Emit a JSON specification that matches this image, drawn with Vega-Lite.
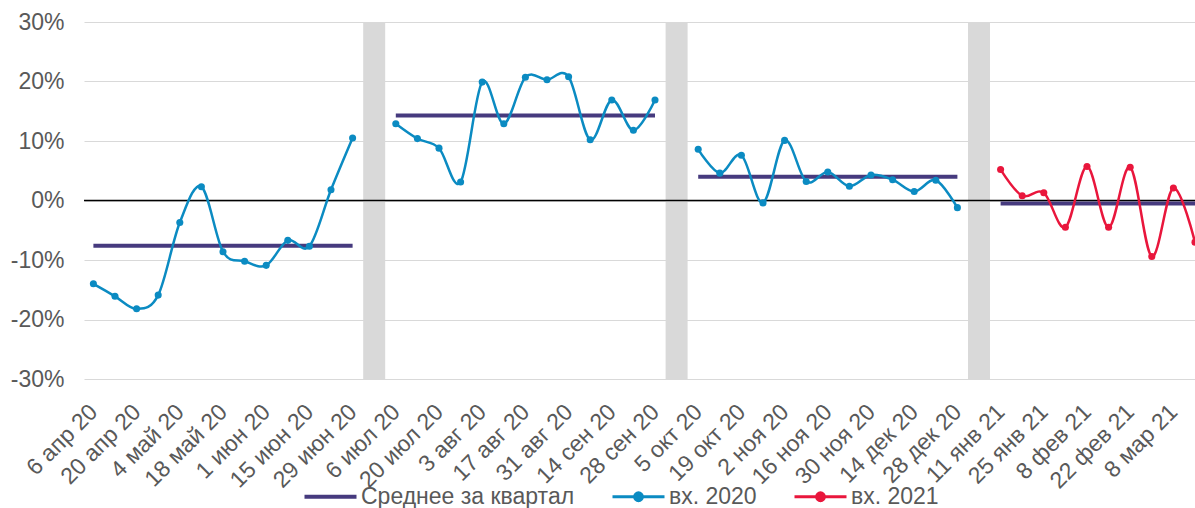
{
  "$schema": "https://vega.github.io/schema/vega-lite/v6.json",
  "width": 1111,
  "height": 357,
  "autosize": {"type": "none"},
  "padding": {"left": 84, "top": 22, "right": 0, "bottom": 129},
  "background": "white",
  "config": {
    "view": {"stroke": null},
    "font": "Liberation Sans",
    "axis": {"labelFont": "Liberation Sans", "labelColor": "#595959"}
  },
  "datasets": {
    "gaps": [{"w": "g1"}, {"w": "g2"}, {"w": "g3"}],
    "zero": [{"z": 0}],
    "series": [
      {"w": "6 апр 20", "s": "вх. 2020", "q": "Q2", "v": -0.140},
      {"w": "13 апр 20", "s": "вх. 2020", "q": "Q2", "v": -0.161},
      {"w": "20 апр 20", "s": "вх. 2020", "q": "Q2", "v": -0.182},
      {"w": "27 апр 20", "s": "вх. 2020", "q": "Q2", "v": -0.159},
      {"w": "4 май 20", "s": "вх. 2020", "q": "Q2", "v": -0.037},
      {"w": "11 май 20", "s": "вх. 2020", "q": "Q2", "v": 0.023},
      {"w": "18 май 20", "s": "вх. 2020", "q": "Q2", "v": -0.086},
      {"w": "25 май 20", "s": "вх. 2020", "q": "Q2", "v": -0.102},
      {"w": "1 июн 20", "s": "вх. 2020", "q": "Q2", "v": -0.109},
      {"w": "8 июн 20", "s": "вх. 2020", "q": "Q2", "v": -0.067},
      {"w": "15 июн 20", "s": "вх. 2020", "q": "Q2", "v": -0.077},
      {"w": "22 июн 20", "s": "вх. 2020", "q": "Q2", "v": 0.018},
      {"w": "29 июн 20", "s": "вх. 2020", "q": "Q2", "v": 0.105},
      {"w": "6 июл 20", "s": "вх. 2020", "q": "Q3", "v": 0.129},
      {"w": "13 июл 20", "s": "вх. 2020", "q": "Q3", "v": 0.104},
      {"w": "20 июл 20", "s": "вх. 2020", "q": "Q3", "v": 0.088},
      {"w": "27 июл 20", "s": "вх. 2020", "q": "Q3", "v": 0.031},
      {"w": "3 авг 20", "s": "вх. 2020", "q": "Q3", "v": 0.199},
      {"w": "10 авг 20", "s": "вх. 2020", "q": "Q3", "v": 0.129},
      {"w": "17 авг 20", "s": "вх. 2020", "q": "Q3", "v": 0.207},
      {"w": "24 авг 20", "s": "вх. 2020", "q": "Q3", "v": 0.203},
      {"w": "31 авг 20", "s": "вх. 2020", "q": "Q3", "v": 0.208},
      {"w": "7 сен 20", "s": "вх. 2020", "q": "Q3", "v": 0.102},
      {"w": "14 сен 20", "s": "вх. 2020", "q": "Q3", "v": 0.169},
      {"w": "21 сен 20", "s": "вх. 2020", "q": "Q3", "v": 0.118},
      {"w": "28 сен 20", "s": "вх. 2020", "q": "Q3", "v": 0.169},
      {"w": "5 окт 20", "s": "вх. 2020", "q": "Q4", "v": 0.086},
      {"w": "12 окт 20", "s": "вх. 2020", "q": "Q4", "v": 0.046},
      {"w": "19 окт 20", "s": "вх. 2020", "q": "Q4", "v": 0.076},
      {"w": "26 окт 20", "s": "вх. 2020", "q": "Q4", "v": -0.004},
      {"w": "2 ноя 20", "s": "вх. 2020", "q": "Q4", "v": 0.101},
      {"w": "9 ноя 20", "s": "вх. 2020", "q": "Q4", "v": 0.032},
      {"w": "16 ноя 20", "s": "вх. 2020", "q": "Q4", "v": 0.048},
      {"w": "23 ноя 20", "s": "вх. 2020", "q": "Q4", "v": 0.024},
      {"w": "30 ноя 20", "s": "вх. 2020", "q": "Q4", "v": 0.043},
      {"w": "7 дек 20", "s": "вх. 2020", "q": "Q4", "v": 0.035},
      {"w": "14 дек 20", "s": "вх. 2020", "q": "Q4", "v": 0.015},
      {"w": "21 дек 20", "s": "вх. 2020", "q": "Q4", "v": 0.034},
      {"w": "28 дек 20", "s": "вх. 2020", "q": "Q4", "v": -0.012},
      {"w": "11 янв 21", "s": "вх. 2021", "q": "Q1", "v": 0.052},
      {"w": "18 янв 21", "s": "вх. 2021", "q": "Q1", "v": 0.008},
      {"w": "25 янв 21", "s": "вх. 2021", "q": "Q1", "v": 0.013},
      {"w": "1 фев 21", "s": "вх. 2021", "q": "Q1", "v": -0.045},
      {"w": "8 фев 21", "s": "вх. 2021", "q": "Q1", "v": 0.057},
      {"w": "15 фев 21", "s": "вх. 2021", "q": "Q1", "v": -0.045},
      {"w": "22 фев 21", "s": "вх. 2021", "q": "Q1", "v": 0.056},
      {"w": "1 мар 21", "s": "вх. 2021", "q": "Q1", "v": -0.094},
      {"w": "8 мар 21", "s": "вх. 2021", "q": "Q1", "v": 0.021},
      {"w": "15 мар 21", "s": "вх. 2021", "q": "Q1", "v": -0.070}
    ],
    "avg": [
      {"w": "6 апр 20", "s": "Среднее за квартал", "q": "Q2", "v": -0.076},
      {"w": "29 июн 20", "s": "Среднее за квартал", "q": "Q2", "v": -0.076},
      {"w": "6 июл 20", "s": "Среднее за квартал", "q": "Q3", "v": 0.143},
      {"w": "28 сен 20", "s": "Среднее за квартал", "q": "Q3", "v": 0.143},
      {"w": "5 окт 20", "s": "Среднее за квартал", "q": "Q4", "v": 0.040},
      {"w": "28 дек 20", "s": "Среднее за квартал", "q": "Q4", "v": 0.040},
      {"w": "11 янв 21", "s": "Среднее за квартал", "q": "Q1", "v": -0.005},
      {"w": "15 мар 21", "s": "Среднее за квартал", "q": "Q1", "v": -0.005}
    ]
  },
  "layer": [
    {
      "data": {"name": "gaps"},
      "mark": {"type": "rule", "color": "#d9d9d9", "strokeWidth": 22},
      "encoding": {
        "x": {
          "field": "w", "type": "ordinal",
          "scale": {
            "type": "point", "padding": 0.2176, "align": 1,
            "domain": ["6 апр 20", "13 апр 20", "20 апр 20", "27 апр 20", "4 май 20", "11 май 20", "18 май 20", "25 май 20", "1 июн 20", "8 июн 20", "15 июн 20", "22 июн 20", "29 июн 20", "g1",
                       "6 июл 20", "13 июл 20", "20 июл 20", "27 июл 20", "3 авг 20", "10 авг 20", "17 авг 20", "24 авг 20", "31 авг 20", "7 сен 20", "14 сен 20", "21 сен 20", "28 сен 20", "g2",
                       "5 окт 20", "12 окт 20", "19 окт 20", "26 окт 20", "2 ноя 20", "9 ноя 20", "16 ноя 20", "23 ноя 20", "30 ноя 20", "7 дек 20", "14 дек 20", "21 дек 20", "28 дек 20", "g3",
                       "11 янв 21", "18 янв 21", "25 янв 21", "1 фев 21", "8 фев 21", "15 фев 21", "22 фев 21", "1 мар 21", "8 мар 21", "15 мар 21"]
          },
          "axis": {
            "title": null,
            "values": ["6 апр 20", "20 апр 20", "4 май 20", "18 май 20", "1 июн 20", "15 июн 20", "29 июн 20", "6 июл 20", "20 июл 20", "3 авг 20", "17 авг 20", "31 авг 20", "14 сен 20", "28 сен 20", "5 окт 20", "19 окт 20", "2 ноя 20", "16 ноя 20", "30 ноя 20", "14 дек 20", "28 дек 20", "11 янв 21", "25 янв 21", "8 фев 21", "22 фев 21", "8 мар 21"],
            "labelAngle": -45,
            "labelAlign": "right",
            "labelBaseline": "middle",
            "labelFontSize": 23,
            "labelPadding": 29,
            "labelOverlap": false,
            "labelBound": false,
            "labelFlush": false,
            "ticks": false,
            "domain": false,
            "grid": false
          }
        }
      }
    },
    {
      "data": {"name": "zero"},
      "mark": {"type": "rule", "color": "#000000", "strokeWidth": 1.6},
      "encoding": {
        "y": {
          "field": "z", "type": "quantitative",
          "scale": {"domain": [-0.3, 0.3], "nice": false, "zero": false},
          "axis": {
            "title": null,
            "values": [-0.3, -0.2, -0.1, 0, 0.1, 0.2, 0.3],
            "format": ".0%",
            "labelExpr": "replace(datum.label, '\u2212', '-')",
            "labelFontSize": 23,
            "labelPadding": 20,
            "ticks": false,
            "domain": false,
            "grid": true,
            "gridColor": "#d9d9d9",
            "gridWidth": 1
          }
        }
      }
    },
    {
      "data": {"name": "avg"},
      "mark": {"type": "line", "strokeWidth": 4, "strokeCap": "butt"},
      "encoding": {
        "x": {"field": "w", "type": "ordinal"},
        "y": {"field": "v", "type": "quantitative"},
        "detail": {"field": "q"},
        "color": {
          "field": "s", "type": "nominal",
          "scale": {"domain": ["Среднее за квартал", "вх. 2020", "вх. 2021"], "range": ["#463a7e", "#0b8bc2", "#e9163c"]},
          "legend": {
            "title": null,
            "orient": "none",
            "legendX": 235,
            "legendY": 463,
            "direction": "horizontal",
            "columns": 3,
            "columnPadding": 31,
            "labelFontSize": 23,
            "labelColor": "#595959",
            "labelFont": "Liberation Sans",
            "labelLimit": 600,
            "labelOffset": 19,
            "symbolSize": 2704,
            "symbolStrokeWidth": 3,
            "encode": {
              "symbols": {
                "update": {
                  "shape": {"signal": "datum.value === 'Среднее за квартал' ? 'M-1,0H1' : 'M-1,0H1M0.15,0A0.15,0.15,0,1,1,-0.15,0A0.15,0.15,0,1,1,0.15,0Z'"},
                  "size": {"value": 2704},
                  "fill": {"scale": "color", "field": "value"},
                  "stroke": {"scale": "color", "field": "value"},
                  "strokeWidth": {"signal": "datum.value === 'Среднее за квартал' ? 4 : 3"},
                  "opacity": {"value": 1},
                  "fillOpacity": {"value": 1}
                }
              }
            }
          }
        }
      }
    },
    {
      "data": {"name": "series"},
      "mark": {"type": "line", "strokeWidth": 2.5, "interpolate": "cardinal"},
      "encoding": {
        "x": {"field": "w", "type": "ordinal"},
        "y": {"field": "v", "type": "quantitative"},
        "detail": {"field": "q"},
        "color": {"field": "s", "type": "nominal"}
      }
    },
    {
      "data": {"name": "series"},
      "mark": {"type": "point", "filled": true, "size": 50, "opacity": 1},
      "encoding": {
        "x": {"field": "w", "type": "ordinal"},
        "y": {"field": "v", "type": "quantitative"},
        "color": {"field": "s", "type": "nominal"}
      }
    }
  ]
}
